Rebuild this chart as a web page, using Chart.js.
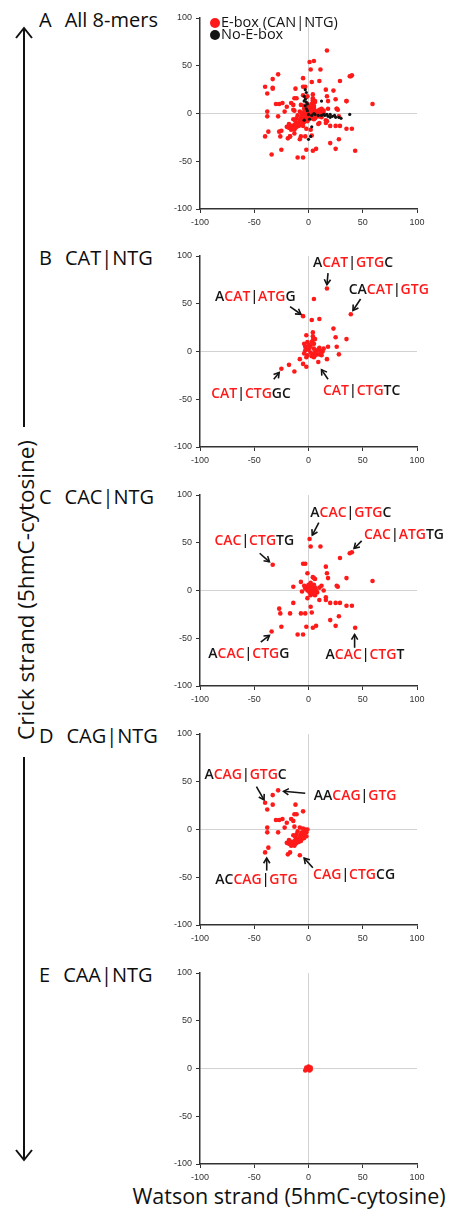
<!DOCTYPE html>
<html lang="en">
<head>
<meta charset="UTF-8">
<title>Watson vs Crick strand 5hmC-cytosine</title>
<script src="https://cdn.jsdelivr.net/npm/chart.js"></script>
<style>
  body {
    margin: 0;
    width: 450px;
    height: 1209px;
    position: relative;
    overflow: hidden;
    background: #fff;
    font-family: "Open Sans", sans-serif;
  }
  .panel {
    position: absolute;
    left: 0;
    width: 450px;
    height: 240px;
  }
  .title {
    position: absolute;
    left: 39px;
    font-size: 20px;
    line-height: 20px;
    color: #0d0d0d;
    white-space: nowrap;
    transform: translateY(-50%);
  }
  .title b {
    font-weight: normal;
    margin-right: 13px;
  }
  #deco {
    position: absolute;
    left: 0;
    top: 0;
  }
</style>
</head>
<body>
<svg id="deco" width="450" height="1209"></svg>

<script>
// ---- data (Watson %, Crick %) ----
const panelTitles = ['A', 'B', 'C', 'D', 'E'];
const panelNames = ['All 8-mers', 'CAT|NTG', 'CAC|NTG', 'CAG|NTG', 'CAA|NTG'];
const seriesNames = ['E-box (CAN|NTG)', 'No-E-box'];
const axisTicks = [-100, -50, 0, 50, 100];

const catPoints = [
  [17, 66], [5, 55], [-5, 37], [3, 33], [10, 34], [39, 39], [23, 24], [25, 15], [35, 13],
  [26, 5], [18, 5], [28, -3], [17, -8], [4, 20], [-2, 17], [-25, -18], [-18, -14], [-13, -21],
  [-8, -8], [-5, -13], [-2, -16], [9, -11], [-3, 5], [-2, 3], [-3, 1], [0, 2], [2, 6], [3, 10],
  [4, 12], [5, 8], [6, 13], [2, -1], [4, -3], [6, -4], [8, -3], [10, -3], [12, -4], [13, 0],
  [14, 3], [5, 3], [7, 1], [9, 2], [11, 1], [3, -5], [5, -6], [-1, -4], [0, 7], [1, 4],
  [-4, -2], [-2, -6], [-4, 8], [6, -1], [10, 4], [12, -1], [-1, 10], [4, 16]
];
const cacPoints = [
  [1, 54], [2, 46], [11, 46], [38, 39], [40, 40], [-33, 27], [29, 34], [-5, 28], [-3, 28],
  [16, 25], [17, 18], [35, 13], [59, 10], [18, 13], [-14, 4], [-7, 9], [-1, 18], [4, 14],
  [6, 12], [5, 13], [12, 5], [26, 5], [27, 4], [2, -5], [6, -5], [10, -10], [16, -7],
  [16, -10], [20, -13], [25, -13], [29, -13], [35, -16], [40, -16], [-14, -13], [-27, -19],
  [-26, -24], [-17, -24], [-7, -24], [-3, -24], [3, -23], [2, -17], [20, -31], [28, -27],
  [25, -37], [43, -39], [7, -37], [4, -39], [-2, -38], [-25, -38], [-34, -43], [-10, -46],
  [-5, -46], [-4, 5], [-3, 2], [-2, 4], [0, 3], [2, 1], [3, 4], [4, 2], [5, 6], [6, 3],
  [1, -2], [3, -3], [5, -1], [7, 0], [8, -2], [-1, 0], [0, 6], [2, 8], [10, 3], [14, 0],
  [-6, -1], [-1, -8]
];
const cagPoints = [
  [-28, 41], [-40, 28], [-33, 26], [-38, 21], [-33, 36], [-12, 26], [-5, 19], [-13, 16],
  [-11, 16], [-30, 10], [-27, 10], [-24, 11], [-38, 2], [-38, -3], [-28, -3], [-22, 2],
  [-20, 7], [-16, 11], [-14, 9], [-37, -19], [-40, -24], [-17, -24], [-19, -26], [-8, -27],
  [-20, -14], [-18, -15], [-16, -13], [-15, -16], [-13, -12], [-12, -15], [-10, -10],
  [-9, -13], [-8, -8], [-7, -5], [-6, -3], [-5, -6], [-4, -4], [-3, -2], [-2, -7], [-11, -5],
  [-14, -6], [-10, -2], [-6, -10], [-12, -8], [-1, 0], [-3, 0], [-5, 1], [-8, 2], [-13, 3],
  [-16, -17], [-18, -11], [-4, -9], [-13, -17], [-11, -14], [-2, -3], [-7, -12]
];
const caaPoints = [
  [-2, -1], [1, 1], [2, -1], [0, 2], [-1, 0], [2, 1], [-3, -2], [1, -2], [-2, 1]
];
const noEboxPoints = [
  [-3, 25], [-2, 22], [-4, 18], [-3, 15], [-2, 12], [-1, 10], [-4, 13], [-3, 8], [-2, 5],
  [12, 13], [6, -1], [9, -2], [12, -2], [15, -2], [18, -3], [20, -4], [22, -3], [25, -4],
  [28, -4], [30, -5], [38, -1], [0, -27], [2, -24], [1, -6], [-4, -7], [3, -14], [0, -1],
  [3, -2], [5, 0], [14, -1], [20, -1], [-1, 3], [24, -2], [17, -1]
];

// labelled 8-mers: [bracketed] = E-box half (red)
const catLabels = ['A[CAT]|[GTG]C', 'A[CAT]|[ATG]G', 'CA[CAT]|[GTG]', '[CAT]|[CTG]GC', '[CAT]|[CTG]TC'];
const catLabelAt = [[41, 93], [-49, 57], [74, 64], [-53, -45], [49, -41]];
const catArrows = [[18, 82, 17, 70], [-17, 47, -7, 39], [48, 55, 41, 43], [-32, -29, -27, -22], [18, -29, 12, -19]];

const cacLabels = ['A[CAC]|[GTG]C', '[CAC]|[CTG]TG', '[CAC]|[ATG]TG', 'A[CAC]|[CTG]G', 'A[CAC]|[CTG]T'];
const cacLabelAt = [[39, 81], [-50, 52], [88, 58], [-55, -66], [52, -68]];
const cacArrows = [[9.5, 71, 3.5, 58], [-45, 39, -36, 30], [49, 52, 42, 44], [-44, -54, -36, -47], [42.5, -60, 42.5, -46]];

const cagLabels = ['A[CAG]|[GTG]C', 'AA[CAG]|[GTG]', 'AC[CAG]|[GTG]', '[CAG]|[CTG]CG'];
const cagLabelAt = [[-58, 57], [43, 35], [-48, -53], [42, -48]];
const cagArrows = [[-48, 45, -41, 31], [-3, 38, -23, 40], [-38.5, -43, -38.5, -30], [4, -40, -4, -30]];

const RED = '#ff1a1a';
const INK = '#141414';

// ---- layout ----
const plotTops = [18, 256, 495, 734, 973];
const plotH = 191;

function parseLabel(str) {
  const parts = [];
  let red = false, buf = '';
  for (const ch of str) {
    if (ch === '[' || ch === ']') {
      if (buf) parts.push([buf, red]);
      buf = '';
      red = ch === '[';
    } else {
      buf += ch;
    }
  }
  if (buf) parts.push([buf, red]);
  return parts;
}

function drawArrow(ctx, x1, y1, x2, y2) {
  const a = Math.atan2(y2 - y1, x2 - x1), h = 6;
  ctx.beginPath();
  ctx.moveTo(x1, y1);
  ctx.lineTo(x2, y2);
  ctx.stroke();
  ctx.beginPath();
  ctx.moveTo(x2 - h * Math.cos(a - 0.55), y2 - h * Math.sin(a - 0.55));
  ctx.lineTo(x2, y2);
  ctx.lineTo(x2 - h * Math.cos(a + 0.55), y2 - h * Math.sin(a + 0.55));
  ctx.stroke();
}

// text labels + arrows, placed in data units through the chart scales
function notesPlugin(labels, at, arrows) {
  return {
    id: 'notes',
    afterDraw(chart) {
      const { ctx, scales: { x, y } } = chart;
      ctx.save();
      ctx.font = '600 14px "Open Sans"';
      ctx.textBaseline = 'middle';
      labels.forEach((str, i) => {
        const parts = parseLabel(str);
        const w = parts.reduce((s, p) => s + ctx.measureText(p[0]).width, 0);
        let px = x.getPixelForValue(at[i][0]) - w / 2;
        const py = y.getPixelForValue(at[i][1]);
        parts.forEach(([t, red]) => {
          ctx.fillStyle = red ? RED : INK;
          ctx.fillText(t, px, py);
          px += ctx.measureText(t).width;
        });
        const a = arrows[i];
        ctx.strokeStyle = INK;
        ctx.lineWidth = 1.6;
        drawArrow(ctx, x.getPixelForValue(a[0]), y.getPixelForValue(a[1]),
                  x.getPixelForValue(a[2]), y.getPixelForValue(a[3]));
      });
      ctx.restore();
    }
  };
}

// legend drawn inside the plot area of panel A
const legendPlugin = {
  id: 'innerLegend',
  afterDraw(chart) {
    const { ctx, chartArea } = chart;
    ctx.save();
    ctx.font = '14.5px "Open Sans"';
    ctx.textBaseline = 'middle';
    chart.data.datasets.forEach((ds, i) => {
      const cx = chartArea.left + 15, cy = chartArea.top + 5 + i * 12;
      ctx.fillStyle = ds.backgroundColor;
      ctx.beginPath();
      ctx.arc(cx, cy, 5, 0, Math.PI * 2);
      ctx.fill();
      ctx.fillStyle = INK;
      ctx.fillText(ds.label, cx + 6, cy);
    });
    ctx.restore();
  }
};

function toXY(arr) {
  return arr.map(p => ({ x: p[0], y: p[1] }));
}

function axis(extra) {
  return Object.assign({
    type: 'linear',
    min: -100,
    max: 100,
    z: 1,
    afterBuildTicks: s => { s.ticks = axisTicks.map(v => ({ value: v })); },
    ticks: {
      font: { family: '"Liberation Sans"', size: 9 },
      color: '#333',
      padding: 4,
      maxRotation: 0
    },
    grid: {
      color: c => (c.tick && c.tick.value === 0 ? '#d2d2d2' : 'rgba(0,0,0,0)'),
      tickColor: '#333',
      tickLength: 4,
      lineWidth: 1
    },
    border: { color: '#333', width: 1.5 }
  }, extra);
}

function makePanel(i, datasets, plugins) {
  const top = plotTops[i];
  const wrap = document.createElement('div');
  wrap.className = 'panel';
  wrap.style.top = (top - 18) + 'px';
  const cv = document.createElement('canvas');
  cv.width = 450;
  cv.height = 240;
  wrap.appendChild(cv);

  const title = document.createElement('div');
  title.className = 'title';
  title.style.top = (top + 2) + 'px';
  title.innerHTML = '<b>' + panelTitles[i] + '</b>' + panelNames[i];
  document.body.appendChild(title);
  document.body.appendChild(wrap);

  new Chart(cv, {
    type: 'scatter',
    data: { datasets },
    options: {
      responsive: false,
      animation: false,
      events: [],
      layout: { padding: { left: 170, right: 33, top: 18, bottom: 240 - 18 - plotH - 22 } },
      plugins: { legend: { display: false }, tooltip: { enabled: false } },
      scales: {
        x: axis({ afterFit: s => { s.height = 22; } }),
        y: axis({ afterFit: s => { s.width = 30; } })
      }
    },
    plugins
  });
}

function redSet(points, label) {
  return {
    label: label || seriesNames[0],
    data: toXY(points),
    backgroundColor: RED,
    borderWidth: 0,
    pointRadius: 2.3,
    order: 1
  };
}

const allEbox = [].concat(catPoints, cacPoints, cagPoints, caaPoints);

makePanel(0, [
  redSet(allEbox),
  {
    label: seriesNames[1],
    data: toXY(noEboxPoints),
    backgroundColor: INK,
    borderWidth: 0,
    pointRadius: 1.6,
    order: 0
  }
], [legendPlugin]);
makePanel(1, [redSet(catPoints)], [notesPlugin(catLabels, catLabelAt, catArrows)]);
makePanel(2, [redSet(cacPoints)], [notesPlugin(cacLabels, cacLabelAt, cacArrows)]);
makePanel(3, [redSet(cagPoints)], [notesPlugin(cagLabels, cagLabelAt, cagArrows)]);
makePanel(4, [redSet(caaPoints)], []);

// ---- long Crick arrow and axis titles ----
const svg = document.getElementById('deco');
svg.innerHTML =
  '<g stroke="#111" stroke-width="2" fill="none">' +
  '<line x1="24" y1="29" x2="24" y2="427"/>' +
  '<polyline points="16,38 24,28 32,38"/>' +
  '<line x1="24" y1="757" x2="24" y2="1159"/>' +
  '<polyline points="16,1150 24,1160 32,1150"/>' +
  '</g>' +
  '<text x="25" y="590" transform="rotate(-90 25 590)" text-anchor="middle" dominant-baseline="central" ' +
  'font-family="Open Sans" font-size="22.5" fill="#111">Crick strand (5hmC-cytosine)</text>' +
  '<text x="289" y="1195" text-anchor="middle" dominant-baseline="central" ' +
  'font-family="Open Sans" font-size="21.5" fill="#111">Watson strand (5hmC-cytosine)</text>';
</script>
</body>
</html>
